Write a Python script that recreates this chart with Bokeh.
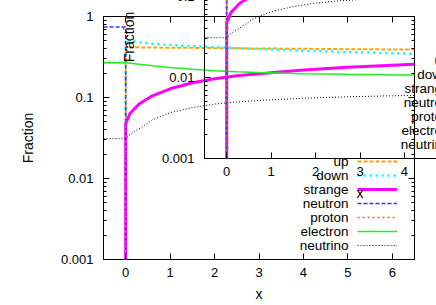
from bokeh.plotting import figure
from bokeh.models import (Range1d, FixedTicker, LogAxis, LinearAxis, Legend, LegendItem,
                          Label, Column, PrintfTickFormatter)
from bokeh.core.properties import value
from bokeh.embed import file_html
from bokeh.resources import INLINE

# ---------------- data ----------------
X_RANGE = (-0.5, 6.5)
Y_RANGE = (0.001, 1.0)
X_TICKS = [0, 1, 2, 3, 4, 5, 6]
Y_TICKS = [0.001, 0.01, 0.1, 1.0]
Y_TICK_LABELS = ["0.001", "0.01", "0.1", "1"]
Y_MINOR = [m * 10.0 ** k for k in (-3, -2, -1) for m in range(2, 10)]

ZERO = 1e-9  # species absent in that phase

X_HADRON = [-0.5, 0.0]
NEUTRON_H = [0.74, 0.74]
PROTON_H = [0.268, 0.268]
ELECTRON_H = [0.268, 0.268]
NEUTRINO_H = [0.031, 0.031]

X_QUARK = [0.0, 0.1, 0.3, 0.6, 1.0, 1.5, 2.0, 2.5, 3.0, 4.0, 5.0, 6.0, 6.5]
UP = [0.420, 0.418, 0.416, 0.414, 0.412, 0.410, 0.407, 0.405, 0.403, 0.399, 0.395, 0.392, 0.391]
DOWN = [0.520, 0.502, 0.482, 0.462, 0.445, 0.430, 0.420, 0.406, 0.396, 0.378, 0.364, 0.352, 0.346]
STRANGE = [0.048, 0.064, 0.083, 0.105, 0.128, 0.152, 0.170, 0.185, 0.197, 0.218, 0.236, 0.250, 0.257]
ELECTRON_Q = [0.268, 0.265, 0.258, 0.247, 0.235, 0.223, 0.214, 0.208, 0.203, 0.197, 0.193, 0.190, 0.189]
NEUTRINO_Q = [0.031, 0.035, 0.041, 0.053, 0.065, 0.075, 0.083, 0.088, 0.092, 0.098, 0.102, 0.105, 0.106]

LABELS = ["up", "down", "strange", "neutron", "proton", "electron", "neutrino"]
COLORS = ["#ffa500", "#00ffff", "#ff00ff", "#3333ff", "#ff5555", "#22ee22", "#000000"]
WIDTHS = [2, 2.5, 3, 1.5, 1.5, 1.5, 1]
DASHES = ["4 2", "2 4", "solid", "4 2", "2 3", "solid", "1 2"]

FONT = "Liberation Sans"


def series():
    return [
        ([0.0] + X_QUARK, [ZERO] + UP),
        ([0.0] + X_QUARK, [ZERO] + DOWN),
        ([0.0] + X_QUARK, [ZERO] + STRANGE),
        (X_HADRON + [0.0], NEUTRON_H + [ZERO]),
        (X_HADRON + [0.0], PROTON_H + [ZERO]),
        (X_HADRON + X_QUARK[1:], ELECTRON_H + ELECTRON_Q[1:]),
        (X_HADRON + X_QUARK[1:], NEUTRINO_H + NEUTRINO_Q[1:]),
    ]


def style_axis(ax, show_labels):
    ax.axis_line_color = None
    ax.major_tick_in = 6
    ax.major_tick_out = 0
    ax.minor_tick_in = 3
    ax.minor_tick_out = 0
    ax.major_tick_line_color = "black"
    ax.minor_tick_line_color = "black"
    ax.major_label_text_font = FONT
    ax.axis_label_text_font = FONT
    ax.axis_label_text_font_style = "normal"
    ax.axis_label_text_font_size = "14px"
    ax.axis_label_text_color = "black"
    if show_labels:
        ax.major_label_text_font_size = "13px"
        ax.major_label_text_color = "black"
    else:
        # mirrored tick marks only (gnuplot style border ticks)
        ax.major_label_text_font_size = "1px"
        ax.major_label_text_color = None
        ax.major_label_standoff = 0


def build(transparent):
    p = figure(width=428, height=297, x_range=Range1d(*X_RANGE), y_range=Range1d(*Y_RANGE),
               y_axis_type="log", output_backend="svg", toolbar_location=None,
               min_border_left=95, min_border_right=22, min_border_top=8, min_border_bottom=46)
    p.grid.visible = False
    p.outline_line_color = "black"
    p.outline_line_width = 1
    p.outline_line_alpha = 1
    if transparent:
        p.background_fill_color = None
        p.border_fill_color = None
    else:
        p.background_fill_color = "white"
        p.border_fill_color = "white"

    xb = p.xaxis[0]
    yl = p.yaxis[0]
    xb.ticker = FixedTicker(ticks=X_TICKS, minor_ticks=[])
    yl.ticker = FixedTicker(ticks=Y_TICKS, minor_ticks=Y_MINOR)
    yl.formatter = PrintfTickFormatter(format="%g")
    yl.major_label_overrides = dict(zip(Y_TICKS, Y_TICK_LABELS))
    style_axis(xb, True)
    style_axis(yl, True)
    xb.axis_label = "x"
    yl.axis_label = "Fraction"
    xb.major_label_standoff = 8
    xb.axis_label_standoff = 6
    yl.major_label_standoff = 10
    yl.axis_label_standoff = 22

    xa = LinearAxis(ticker=FixedTicker(ticks=X_TICKS, minor_ticks=[]))
    yr = LogAxis(ticker=FixedTicker(ticks=Y_TICKS, minor_ticks=Y_MINOR))
    style_axis(xa, False)
    style_axis(yr, False)
    p.add_layout(xa, "above")
    p.add_layout(yr, "right")

    items = []
    for (xs, ys), lab, c, w, d in zip(series(), LABELS, COLORS, WIDTHS, DASHES):
        r = p.line(xs, ys, line_color=c, line_width=w, line_dash=d)
        items.append(LegendItem(label=value(" "), renderers=[r]))

    leg = Legend(items=items, location=(254, 7), padding=0, margin=0, spacing=0,
                 glyph_width=40, glyph_height=14, label_height=14, label_width=0,
                 label_standoff=0, label_text_font_size="1px",
                 border_line_color=None, background_fill_alpha=0)
    p.add_layout(leg)

    for i, lab in enumerate(LABELS):
        p.add_layout(Label(x=245, y=98 - 14 * i, x_units="screen", y_units="screen",
                           text=lab, text_align="right", text_baseline="middle",
                           text_font=FONT, text_font_size="13.5px", text_color="black"))
    return p


main = build(False)
main.styles = {"position": "absolute", "left": "8px", "top": "8px"}
inset = build(True)
inset.styles = {"position": "absolute", "left": "109px", "top": "-93px"}

root = Column(children=[main, inset], width=436, height=305, sizing_mode="fixed",
              styles={"position": "absolute", "left": "0px", "top": "0px",
                      "overflow": "hidden"})

open("out.html", "w").write(file_html(root, INLINE))
